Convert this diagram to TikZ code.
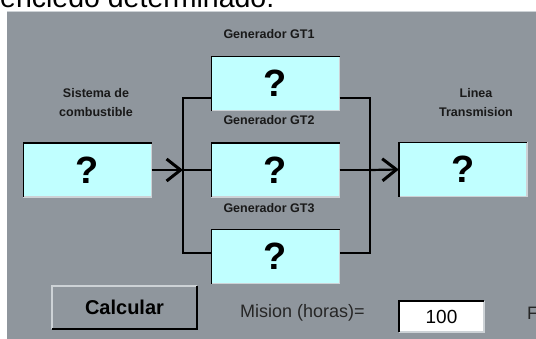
\documentclass[tikz,border=0pt]{standalone}
\usepackage{fontspec}
\setmainfont{Liberation Sans}
\usetikzlibrary{arrows.meta,positioning}
\definecolor{panelgray}{RGB}{143,150,157}
\definecolor{boxcyan}{RGB}{192,255,255}
\definecolor{edgelight}{RGB}{205,210,214}

\begin{document}
\begin{tikzpicture}[x=1pt, y=-1pt,
    qbox/.style={fill=boxcyan, minimum width=128pt, minimum height=54pt,
                 inner sep=0pt, font=\fontsize{38}{38}\bfseries\selectfont},
    glabel/.style={font=\fontsize{12.5}{19}\bfseries\selectfont, align=center, text=black!90},
    wire/.style={line width=2.2pt, black},
    feed/.style={wire, -{Straight Barb[length=14pt, width=22pt, line width=3pt]}},
    uilabel/.style={font=\fontsize{18}{18}\selectfont, text=black!85}]
    \clip (0,0) rectangle (536,339);
    \fill[white] (0,0) rectangle (536,339);
    %% Window
    \node[anchor=base west, font=\fontsize{28.5}{28.5}\selectfont, inner sep=0pt]
          (intro) at (0,7.5) {enciedo determinado.};
    \fill[panelgray] (7,11) rectangle (536,339);
    \draw[edgelight, line width=1pt] (7,11.5) -- (536,11.5);

    %% Blocks
        \node[qbox] (sis) at (87.5,170) {?};
        \node[glabel] (lsis) at (96,102.5) {Sistema de\\combustible};
        \node[qbox] (gt1) at (275.5,83.5) {?};
        \node[glabel] (lgt1) at (269,34) {Generador GT1};
        \node[qbox] (gt2) at (275.5,170) {?};
        \node[glabel] (lgt2) at (269,120) {Generador GT2};
        \node[qbox] (gt3) at (275.5,256.5) {?};
        \node[glabel] (lgt3) at (269,208) {Generador GT3};
        \node[qbox] (lin) at (463,169.5) {?};
        \node[glabel] (llin) at (476,102.5) {Linea\\Transmision};
        \foreach \n in {sis,gt1,gt2,gt3,lin}{
            \draw[edgelight, line width=1.5pt] (\n.south west) -| (\n.north east);
            \draw[black, line width=1.5pt] (\n.south west) |- (\n.north east);
        }

    %% Buses
        \coordinate (bl1) at (183,98);
        \coordinate (bl2) at (183,170);
        \coordinate (bl3) at (183,253);
        \coordinate (br1) at (370,98);
        \coordinate (br2) at (370,170);
        \coordinate (br3) at (370,253);

    %% Edges
        \draw[wire] (gt1.west |- bl1) -- (bl1) -- (bl3) -- (gt3.west |- bl3);
        \draw[wire] (gt2.west) -- (bl2);
        \draw[wire] (gt1.east |- br1) -- (br1) -- (br3) -- (gt3.east |- br3);
        \draw[wire] (gt2.east) -- (br2);
        \draw[feed] (sis.east) -- (bl2);
        \draw[feed] (br2) -- (lin.west);

    %% Controls
        \node[minimum width=145pt, minimum height=43pt, inner sep=0pt,
              font=\fontsize{20}{20}\bfseries\selectfont] (calc) at (124.5,307.5) {Calcular};
        \draw[edgelight, line width=1.5pt] (calc.south west) |- (calc.north east);
        \draw[black, line width=1.5pt] (calc.south west) -| (calc.north east);
        \node[uilabel, anchor=west, inner sep=0pt] (mis) at (240,313) {Mision (horas)=};
        \node[fill=white, minimum width=85pt, minimum height=31pt, inner sep=0pt,
              font=\fontsize{19}{19}\selectfont] (hrs) at (441.5,316.5) {100};
        \draw[edgelight, line width=1.5pt] (hrs.south west) -| (hrs.north east);
        \draw[black, line width=1.5pt] (hrs.south west) |- (hrs.north east);
        \node[uilabel, anchor=west, inner sep=0pt] (fia) at (527,313) {F};
\end{tikzpicture}
\end{document}
